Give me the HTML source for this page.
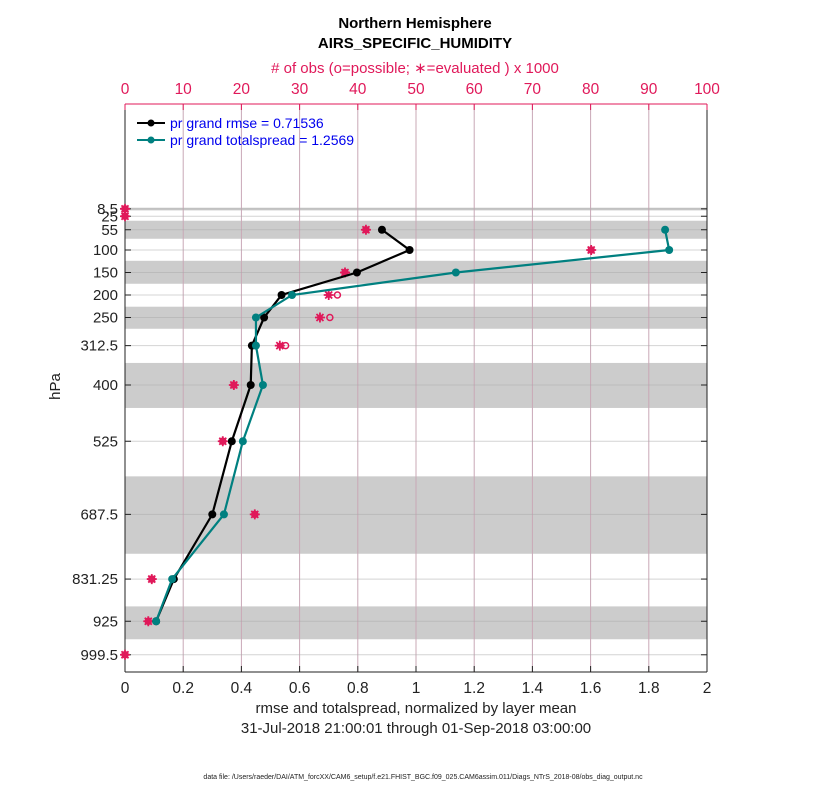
<!DOCTYPE html>
<html><head><meta charset="utf-8"><style>
body{margin:0;background:#fff;width:830px;height:800px;overflow:hidden}
svg{font-family:"Liberation Sans",sans-serif}
</style></head><body>
<svg width="830" height="800">
<g id="g"></g>
</svg>
<script>
const levels=[8.5,25,55,100,150,200,250,312.5,400,525,687.5,831.25,925,999.5];
const levelLabels=["8.5","25","55","100","150","200","250","312.5","400","525","687.5","831.25","925","999.5"];
const rmseLevels=[55,100,150,200,250,312.5,400,525,687.5,831.25,925];
const rmseVals=[0.883,0.978,0.797,0.538,0.478,0.436,0.432,0.367,0.300,0.168,0.107];
const spreadVals=[1.856,1.870,1.137,0.574,0.450,0.450,0.474,0.405,0.340,0.162,0.107];
const obsPossible=[0,0,41.4,80.1,37.8,36.5,35.2,27.6,18.7,16.8,22.3,4.6,4.0,0];
const obsEvaluated=[0,0,41.4,80.1,37.8,35.0,33.5,26.6,18.7,16.8,22.3,4.6,4.0,0];
const bands=[[6,12],[35,75],[124,175],[226,275],[351,451],[603,775],[892,965]];
const xTicks=[0,0.2,0.4,0.6,0.8,1,1.2,1.4,1.6,1.8,2];
const xTickLabels=["0","0.2","0.4","0.6","0.8","1","1.2","1.4","1.6","1.8","2"];
const topTicks=[0,10,20,30,40,50,60,70,80,90,100];

const L=125,R=707,T=104,B=672;
const X=v=>L+(v/2)*(R-L);
const XT=v=>L+(v/100)*(R-L);
const Y=p=>205+0.45*p;
const NS="http://www.w3.org/2000/svg",g=document.getElementById('g');
function el(t,a,txt){const e=document.createElementNS(NS,t);for(const k in a)e.setAttribute(k,a[k]);if(txt!==undefined)e.textContent=txt;g.appendChild(e);return e;}

bands.forEach(b=>{const e=el('rect',{x:L,y:Y(b[0]),width:R-L,height:Y(b[1])-Y(b[0]),fill:'#cccccc'});

});
xTicks.forEach((v,i)=>{if(i>0&&i<xTicks.length-1)el('line',{x1:X(v),x2:X(v),y1:T,y2:B,stroke:'#c9a8b6','stroke-width':1});});
levels.forEach(p=>el('line',{x1:L,x2:R,y1:Y(p),y2:Y(p),stroke:'#aaa','stroke-opacity':0.5,'stroke-width':1}));
el('line',{x1:L,x2:R,y1:T,y2:T,stroke:'#e0195a'});
el('line',{x1:L,x2:L,y1:T,y2:B,stroke:'#222'});
el('line',{x1:R,x2:R,y1:T,y2:B,stroke:'#222'});
el('line',{x1:L,x2:R,y1:B,y2:B,stroke:'#222'});
xTicks.forEach((v,i)=>{el('line',{x1:X(v),x2:X(v),y1:B,y2:B-6,stroke:'#222'});
const t=el('text',{x:X(v),y:B+21,'text-anchor':'middle','font-size':15.5,fill:'#222'},xTickLabels[i]);
});
topTicks.forEach(v=>{el('line',{x1:XT(v),x2:XT(v),y1:T,y2:T+6,stroke:'#e0195a'});
const t=el('text',{x:XT(v),y:T-10,'text-anchor':'middle','font-size':15.5,fill:'#e0195a'},String(v));
});
levels.forEach((p,i)=>{el('line',{x1:L,x2:L+6,y1:Y(p),y2:Y(p),stroke:'#222'});el('line',{x1:R,x2:R-6,y1:Y(p),y2:Y(p),stroke:'#222'});
const t=el('text',{x:L-7,y:Y(p)+5,'text-anchor':'end','font-size':15,fill:'#222'},levelLabels[i]);
});

levels.forEach((p,i)=>{
 const c=el('circle',{cx:XT(obsPossible[i]),cy:Y(p),r:3,fill:'none',stroke:'#e0195a','stroke-width':1.5});
 
 const x=XT(obsEvaluated[i]),y=Y(p);
 const s=el('path',{d:`M${x-5},${y}H${x+5}M${x},${y-5}V${y+5}M${x-3.5},${y-3.5}L${x+3.5},${y+3.5}M${x-3.5},${y+3.5}L${x+3.5},${y-3.5}`,stroke:'#e0195a','stroke-width':1.8});
 
 const d=el('circle',{cx:x,cy:y,r:3,fill:'#e0195a'});
 
});
function series(vals,color,name){
 const pts=rmseLevels.map((p,i)=>X(vals[i])+','+Y(p)).join(' ');
 const pl=el('polyline',{points:pts,fill:'none',stroke:color,'stroke-width':2.2});
 
 rmseLevels.forEach((p,i)=>{const c=el('circle',{cx:X(vals[i]),cy:Y(p),r:4,fill:color});
 });
}
series(rmseVals,'#000','rmse');
series(spreadVals,'#008080','totalspread');
el('line',{x1:137,x2:165,y1:123,y2:123,stroke:'#000','stroke-width':2});el('circle',{cx:151,cy:123,r:3.5,fill:'#000'});
el('line',{x1:137,x2:165,y1:140,y2:140,stroke:'#008080','stroke-width':2});el('circle',{cx:151,cy:140,r:3.5,fill:'#008080'});
</script>
<div style="position:absolute;left:0;top:0;width:830px;height:800px;font-family:'Liberation Sans',sans-serif;pointer-events:none">
<div style="position:absolute;left:0;width:830px;top:14px;text-align:center;font-weight:bold;font-size:15px;line-height:20px">Northern Hemisphere<br>AIRS_SPECIFIC_HUMIDITY</div>
<div style="position:absolute;left:0;width:830px;top:59px;text-align:center;font-size:15px;color:#e0195a">
# of obs (o=possible; ∗=evaluated ) x 1000</div>
<div style="position:absolute;left:170px;top:115px;font-size:14px;color:#0000ee">pr grand rmse = 0.71536</div>
<div style="position:absolute;left:170px;top:132px;font-size:14px;color:#0000ee">pr grand totalspread = 1.2569</div>
<div style="position:absolute;left:0;width:832px;top:699px;text-align:center;font-size:15px;line-height:20px;color:#222">rmse and totalspread, normalized by layer mean<br>31-Jul-2018 21:00:01 through 01-Sep-2018 03:00:00</div>
<div style="position:absolute;left:42px;top:378px;font-size:15px;transform:rotate(-90deg);color:#222">hPa</div>
<div style="position:absolute;left:0;width:846px;top:774px;text-align:center;font-size:7px;color:#222">data file: /Users/raeder/DAI/ATM_forcXX/CAM6_setup/f.e21.FHIST_BGC.f09_025.CAM6assim.011/Diags_NTrS_2018-08/obs_diag_output.nc</div>
</div>
</body></html>
